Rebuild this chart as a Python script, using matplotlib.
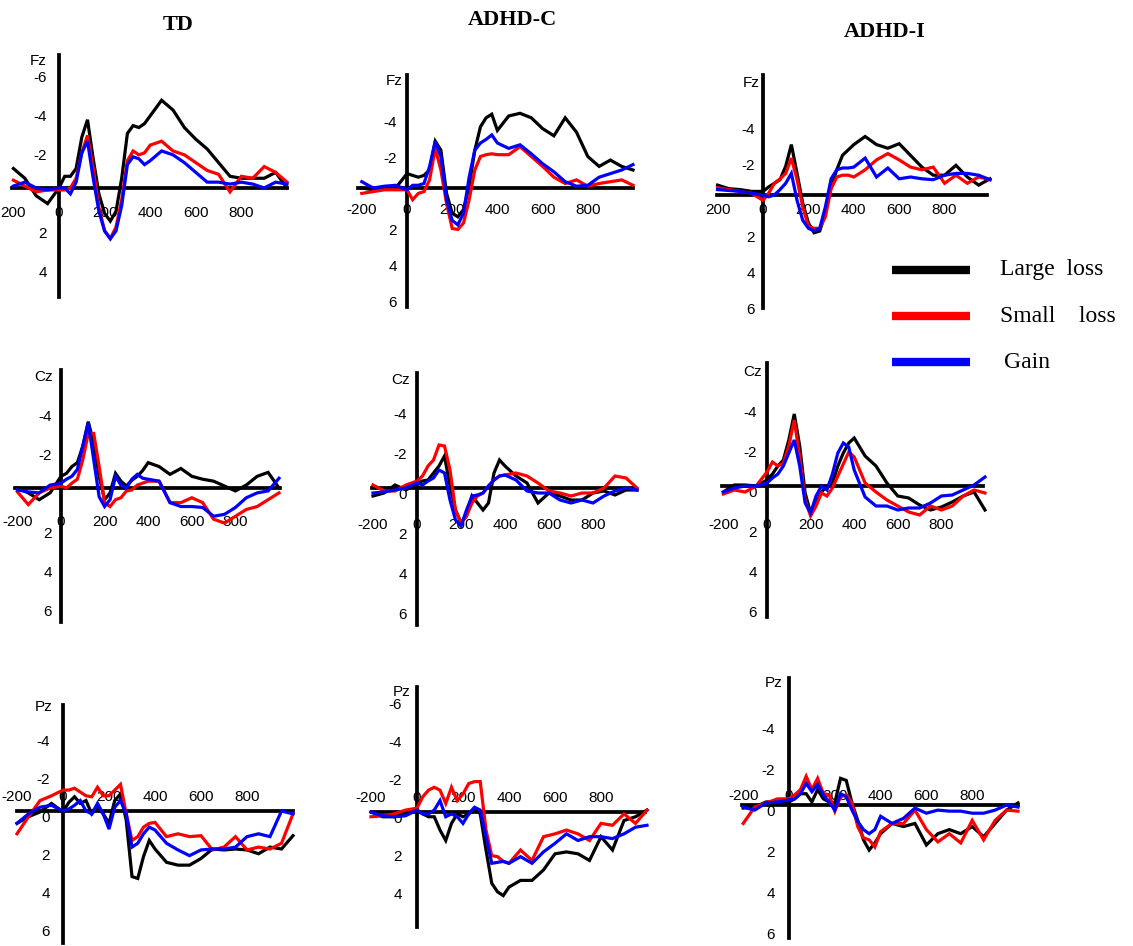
import matplotlib
matplotlib.use("Agg")
import matplotlib.pyplot as plt
from matplotlib.lines import Line2D

W, H = 1133, 946
plt.rcParams['font.family'] = ['Liberation Sans', 'DejaVu Sans']

# time points (ms) shared by every waveform
times = [-200, -150, -100, -50, 0, 25, 50, 75, 100, 125, 150, 175, 200, 225, 250, 275,
         300, 325, 350, 375, 400, 450, 500, 550, 600, 650, 700, 750, 800, 850, 900, 950, 1000]

groups = ["TD", "ADHD-C", "ADHD-I"]
sites = ["Fz", "Cz", "Pz"]
conditions = ["Large  loss", "Small    loss", "Gain"]
colors = ["#000000", "#ff0000", "#0000ff"]

# amplitudes in microvolts (negative plotted upward)
td_fz_large = [-1.0, -0.5, 0.4, 0.8, 0.0, -0.6, -0.6, -1.0, -2.6, -3.5, -1.5, 0.3, 1.3, 1.7, 1.2, -0.5,
               -2.8, -3.2, -3.1, -3.3, -3.7, -4.5, -4.0, -3.1, -2.5, -2.0, -1.3, -0.6, -0.5, -0.5, -0.5, -0.8, 0.0]
td_fz_small = [-0.4, -0.1, 0.2, 0.1, 0.1, 0.1, 0.0, -0.5, -1.8, -2.7, -1.0, 1.0, 2.2, 2.6, 2.0, 0.6,
               -1.4, -1.9, -1.7, -1.8, -2.2, -2.4, -1.9, -1.7, -1.3, -0.9, -0.7, 0.2, -0.6, -0.5, -1.1, -0.8, -0.3]
td_fz_gain = [-0.1, -0.3, 0.0, 0.1, 0.0, 0.0, 0.3, -0.3, -1.8, -2.4, -0.5, 1.2, 2.2, 2.6, 2.2, 0.9,
              -1.2, -1.6, -1.5, -1.2, -1.4, -1.9, -1.7, -1.3, -0.8, -0.3, -0.3, -0.2, -0.3, -0.2, 0.0, -0.3, -0.2]

adc_fz_large = [0.0, 0.1, 0.0, 0.0, -0.8, -0.7, -0.6, -0.7, -1.0, -2.6, -2.1, 0.3, 1.4, 1.6, 1.2, -0.1,
                -2.1, -3.4, -3.9, -4.1, -3.2, -4.0, -4.15, -3.9, -3.3, -2.9, -3.9, -3.1, -1.75, -1.2, -1.55, -1.2, -1.0]
adc_fz_small = [0.3, 0.2, 0.1, 0.1, 0.1, 0.65, 0.3, 0.2, -0.45, -2.2, -1.0, 0.85, 2.25, 2.3, 1.95, 0.65,
                -1.0, -1.75, -1.85, -1.9, -1.85, -1.85, -2.3, -1.75, -1.2, -0.6, -0.25, -0.45, -0.1, -0.25, -0.35, -0.45, -0.15]
adc_fz_gain = [-0.35, 0.0, -0.1, -0.15, 0.1, -0.15, -0.15, -0.25, -1.2, -2.6, -1.75, 0.65, 1.8, 2.05, 1.4, -0.6,
               -2.1, -2.5, -2.7, -2.95, -2.5, -2.2, -2.4, -1.9, -1.35, -0.9, -0.35, -0.1, -0.15, -0.6, -0.8, -1.0, -1.3]

adi_fz_large = [-0.55, -0.35, -0.3, -0.2, -0.2, -0.45, -0.65, -0.85, -1.6, -2.8, -1.2, 0.45, 1.55, 2.1, 2.0, 1.0,
                -0.45, -1.4, -2.2, -2.5, -2.8, -3.25, -2.8, -2.6, -2.85, -2.2, -1.55, -1.1, -1.1, -1.65, -1.0, -0.55, -0.9]
adi_fz_small = [-0.4, -0.3, -0.2, -0.1, 0.3, -0.1, -0.65, -0.9, -1.2, -2.05, -0.85, 0.65, 1.75, 1.85, 1.85, 1.2,
                -0.35, -1.0, -1.1, -1.1, -1.0, -1.4, -1.95, -2.3, -1.95, -1.55, -1.4, -1.55, -0.65, -1.1, -0.65, -1.0, -0.85]
adi_fz_gain = [-0.3, -0.25, -0.2, -0.1, 0.0, 0.1, 0.0, -0.3, -0.65, -1.2, 0.3, 1.4, 1.85, 2.0, 1.85, 0.65,
               -0.9, -1.4, -1.5, -1.5, -1.55, -2.05, -1.0, -1.5, -0.9, -1.0, -0.9, -0.85, -1.1, -1.2, -1.2, -1.1, -0.85]

td_cz_large = [0.0, 0.25, 0.6, 0.25, -0.6, -0.75, -1.1, -1.3, -2.15, -3.4, -2.3, -0.6, 0.6, 0.25, -0.75, -0.35,
               -0.1, -0.4, -0.6, -0.9, -1.3, -1.1, -0.7, -1.0, -0.6, -0.45, -0.35, -0.1, 0.15, -0.15, -0.6, -0.8, 0.0]
td_cz_small = [0.2, 0.85, 0.25, 0.0, -0.1, 0.0, -0.25, -0.45, -1.45, -2.8, -2.8, -1.1, 0.75, 0.95, 0.6, 0.5,
               0.15, 0.1, -0.15, -0.25, -0.35, -0.35, 0.75, 0.75, 0.5, 0.75, 1.6, 1.8, 1.45, 1.1, 0.95, 0.6, 0.25]
td_cz_gain = [0.1, 0.2, 0.25, -0.15, -0.25, -0.45, -0.6, -0.95, -2.15, -3.35, -1.45, 0.45, 0.95, 0.6, -0.6, -0.15,
              0.0, -0.45, -0.7, -0.5, -0.45, -0.35, 0.75, 0.95, 0.95, 1.0, 1.45, 1.35, 1.0, 0.5, 0.25, 0.15, -0.5]

adc_cz_large = [0.4, 0.25, -0.15, 0.1, -0.25, -0.35, -0.4, -0.75, -1.1, -1.6, -0.1, 1.1, 1.75, 1.4, 0.4, 0.75,
                1.1, 0.75, -0.75, -1.4, -1.1, -0.6, -0.25, 0.75, 0.25, 0.4, 0.6, 0.6, 0.25, 0.15, 0.35, 0.1, 0.1]
adc_cz_small = [-0.15, 0.15, 0.15, -0.15, -0.35, -0.6, -1.1, -1.4, -2.15, -2.1, -0.9, 1.1, 1.75, 1.4, 0.75, 0.4,
                0.25, -0.1, -0.4, -0.6, -0.65, -0.75, -0.6, -0.25, 0.15, 0.25, 0.4, 0.25, 0.25, 0.0, -0.6, -0.5, 0.0]
adc_cz_gain = [0.25, 0.2, 0.1, 0.0, -0.25, -0.15, -0.35, -0.5, -0.9, -0.75, 0.6, 1.6, 1.9, 1.1, 0.4, 0.35,
               0.25, -0.1, -0.4, -0.6, -0.65, -0.4, 0.15, 0.25, 0.25, 0.6, 0.75, 0.6, 0.75, 0.4, 0.15, 0.0, 0.1]

adi_cz_large = [0.3, -0.05, -0.05, 0.0, -0.3, -0.6, -1.0, -1.3, -2.3, -3.6, -2.0, 0.35, 1.35, 0.85, 0.3, 0.0,
                -0.15, -1.0, -1.65, -2.15, -2.4, -1.5, -1.0, -0.15, 0.5, 0.6, 0.95, 1.2, 1.05, 0.8, 0.5, 0.3, 1.2]
adi_cz_small = [0.4, 0.2, 0.3, 0.0, -0.7, -1.2, -1.0, -1.15, -2.0, -3.3, -1.45, 0.7, 1.5, 1.0, 0.35, 0.5,
                0.1, -0.5, -1.1, -1.7, -1.45, -0.15, 0.3, 0.7, 1.0, 1.3, 1.45, 1.0, 1.2, 1.0, 0.5, 0.2, 0.35]
adi_cz_gain = [0.3, 0.1, 0.0, 0.0, -0.15, -0.4, -0.6, -1.0, -1.65, -2.3, -1.0, 0.85, 1.35, 0.5, 0.0, 0.2,
               -0.6, -1.65, -2.15, -1.95, -0.8, 0.55, 1.0, 1.0, 1.2, 1.1, 1.1, 0.85, 0.5, 0.45, 0.2, -0.05, -0.45]

td_pz_large = [0.65, 0.3, 0.05, -0.4, 0.05, -0.45, -0.75, -0.4, -0.55, 0.15, -0.2, 0.15, 0.65, -0.55, -0.9, 0.5,
               3.45, 3.55, 2.4, 1.55, 2.0, 2.7, 2.85, 2.85, 2.5, 2.0, 2.05, 2.0, 2.05, 2.25, 1.9, 2.0, 1.3]
td_pz_small = [1.2, 0.3, -0.55, -0.8, -1.1, -1.1, -1.2, -1.0, -0.8, -0.75, -1.25, -0.8, -0.8, -1.1, -1.4, 0.15,
               1.55, 1.35, 0.85, 0.65, 0.6, 1.35, 1.2, 1.35, 1.3, 2.05, 1.9, 1.35, 2.05, 1.9, 2.0, 1.7, 0.15]
td_pz_gain = [0.65, 0.15, -0.2, -0.3, 0.0, -0.1, -0.3, -0.55, 0.0, 0.15, -0.4, 0.15, 0.95, -0.2, -0.55, 0.15,
              1.9, 1.7, 1.2, 0.85, 1.0, 1.7, 2.05, 2.35, 2.05, 2.0, 2.0, 1.9, 1.35, 1.2, 1.35, 0.0, 0.15]

adc_pz_large = [0.0, 0.25, 0.25, 0.1, -0.1, 0.1, 0.25, 0.25, 0.95, 1.5, 0.6, 0.1, 0.25, 0.1, -0.2, 0.1,
                2.0, 3.75, 4.2, 4.4, 3.95, 3.6, 3.6, 3.05, 2.2, 2.1, 2.2, 2.55, 1.3, 2.0, 0.45, 0.25, -0.1]
adc_pz_small = [0.25, 0.2, 0.1, -0.1, -0.2, -0.8, -1.15, -1.3, -1.15, -0.45, -1.3, -0.6, -0.95, -1.5, -1.6, -1.6,
                0.95, 2.3, 2.35, 2.6, 2.7, 2.0, 2.55, 1.3, 1.15, 0.95, 1.15, 1.5, 0.6, 0.7, 0.1, 0.6, -0.1]
adc_pz_gain = [0.0, 0.2, 0.25, 0.2, -0.1, 0.1, 0.1, -0.1, -0.6, 0.25, 0.1, 0.25, 0.6, 0.1, -0.25, -0.1,
               1.3, 2.7, 2.65, 2.6, 2.7, 2.35, 2.7, 2.1, 1.65, 1.15, 1.5, 1.3, 1.3, 1.4, 1.15, 0.8, 0.7]

adi_pz_large = [0.15, 0.1, -0.15, -0.15, -0.15, -0.3, -0.55, -0.55, -0.15, -0.75, -0.3, -0.15, -0.1, -1.3, -1.2, -0.1,
                0.75, 1.7, 2.2, 1.85, 1.4, 0.9, 1.05, 0.9, 1.95, 1.4, 1.2, 1.4, 1.05, 1.55, 0.9, 0.25, -0.1]
adi_pz_small = [0.9, 0.1, -0.1, -0.3, -0.3, -0.5, -0.75, -1.4, -0.75, -1.3, -0.55, -0.5, 0.3, -0.4, -0.5, -0.1,
                1.05, 1.6, 1.7, 2.05, 1.3, 0.9, 0.9, 0.25, 1.2, 1.8, 1.4, 1.85, 0.75, 1.7, 0.75, 0.25, 0.3]
adi_pz_gain = [0.1, 0.25, -0.1, -0.15, -0.25, -0.3, -0.55, -1.05, -0.65, -1.0, -0.5, -0.15, 0.25, -0.55, -0.4, 0.25,
               0.8, 1.2, 1.4, 1.2, 0.55, 0.9, 0.65, 0.15, 0.4, 0.25, 0.3, 0.3, 0.4, 0.4, 0.25, 0.0, 0.1]

waves = {
    ("TD", "Fz"): [td_fz_large, td_fz_small, td_fz_gain],
    ("ADHD-C", "Fz"): [adc_fz_large, adc_fz_small, adc_fz_gain],
    ("ADHD-I", "Fz"): [adi_fz_large, adi_fz_small, adi_fz_gain],
    ("TD", "Cz"): [td_cz_large, td_cz_small, td_cz_gain],
    ("ADHD-C", "Cz"): [adc_cz_large, adc_cz_small, adc_cz_gain],
    ("ADHD-I", "Cz"): [adi_cz_large, adi_cz_small, adi_cz_gain],
    ("TD", "Pz"): [td_pz_large, td_pz_small, td_pz_gain],
    ("ADHD-C", "Pz"): [adc_pz_large, adc_pz_small, adc_pz_gain],
    ("ADHD-I", "Pz"): [adi_pz_large, adi_pz_small, adi_pz_gain],
}

# tick values / labels per panel
xtick_vals = [-200, 0, 200, 400, 600, 800]
xtick_text = {
    ("TD", "Fz"): ["200", "0", "200", "400", "600", "800"],
    ("ADHD-I", "Fz"): ["200", "0", "200", "400", "600", "800"],
}
default_xtext = ["-200", "0", "200", "400", "600", "800"]
ytick_vals = {
    ("TD", "Fz"): [-6, -4, -2, 2, 4],
    ("ADHD-C", "Fz"): [-4, -2, 2, 4, 6],
    ("ADHD-I", "Fz"): [-4, -2, 2, 4, 6],
    ("TD", "Cz"): [-4, -2, 2, 4, 6],
    ("ADHD-C", "Cz"): [-4, -2, 0, 2, 4, 6],
    ("ADHD-I", "Cz"): [-4, -2, 0, 2, 4, 6],
    ("TD", "Pz"): [-4, -2, 0, 2, 4, 6],
    ("ADHD-C", "Pz"): [-6, -4, -2, 0, 2, 4],
    ("ADHD-I", "Pz"): [-4, -2, 0, 2, 4, 6],
}

# pixel geometry of each hand-placed panel:
# origin (x0, y0), px per ms, px per uV, vertical axis span, horizontal axis span,
# x-label offset from axis, y-label gap, site label (right x, centre y)
layout = {
    ("TD", "Fz"): dict(x0=59, y0=188, sx=0.228, sy=19.5, v=(55, 297), h=(12, 287), xl=25, yl=12, name=(47, 61)),
    ("ADHD-C", "Fz"): dict(x0=407, y0=188, sx=0.226, sy=18, v=(75, 307), h=(358, 633), xl=22, yl=10, name=(403, 81)),
    ("ADHD-I", "Fz"): dict(x0=763, y0=195, sx=0.227, sy=18, v=(75, 308), h=(717, 987), xl=15, yl=8, name=(760, 83)),
    ("TD", "Cz"): dict(x0=61, y0=488, sx=0.218, sy=19.5, v=(370, 622), h=(15, 280), xl=34, yl=9, name=(53, 377)),
    ("ADHD-C", "Cz"): dict(x0=417, y0=488, sx=0.22, sy=20, v=(373, 625), h=(372, 635), xl=37, yl=10, name=(410, 380)),
    ("ADHD-I", "Cz"): dict(x0=767, y0=486, sx=0.218, sy=20, v=(363, 617), h=(722, 983), xl=39, yl=10, name=(762, 372)),
    ("TD", "Pz"): dict(x0=63, y0=811, sx=0.23, sy=19, v=(705, 943), h=(17, 293), xl=-14, yl=13, name=(53, 707)),
    ("ADHD-C", "Pz"): dict(x0=417, y0=812, sx=0.23, sy=19, v=(687, 927), h=(372, 645), xl=-14, yl=15, name=(410, 692)),
    ("ADHD-I", "Pz"): dict(x0=789, y0=805, sx=0.229, sy=20.5, v=(678, 938), h=(742, 1018), xl=-9, yl=14, name=(782, 683)),
}
title_pos = {"TD": (178, 25), "ADHD-C": (512, 20), "ADHD-I": (885, 32)}

fig = plt.figure(figsize=(W / 100, H / 100), dpi=100)
XL, YL = (-260, 1060), (-8, 8)

for site in sites:
    for group in groups:
        key = (group, site)
        p = layout[key]
        sx, sy, x0, y0 = p["sx"], p["sy"], p["x0"], p["y0"]
        left = x0 + XL[0] * sx
        top = y0 + YL[0] * sy
        wpx = (XL[1] - XL[0]) * sx
        hpx = (YL[1] - YL[0]) * sy
        ax = fig.add_axes([left / W, 1 - (top + hpx) / H, wpx / W, hpx / H])
        ax.set_xlim(XL)
        ax.set_ylim(YL[1], YL[0])
        ax.patch.set_visible(False)
        for s in ("top", "right"):
            ax.spines[s].set_visible(False)
        ax.spines["left"].set_position(("data", 0))
        ax.spines["bottom"].set_position(("data", 0))
        ax.spines["left"].set_bounds((p["v"][0] - y0) / sy, (p["v"][1] - y0) / sy)
        ax.spines["bottom"].set_bounds((p["h"][0] - x0) / sx, (p["h"][1] - x0) / sx)
        for s in ("left", "bottom"):
            ax.spines[s].set_linewidth(2.7)
            ax.spines[s].set_color("black")
        ax.set_xticks([])
        ax.set_yticks([])

        for vals, c in zip(waves[key], colors):
            ax.plot(times, vals, color=c, lw=2.3, zorder=3, solid_joinstyle="miter")

        for v in ytick_vals[key]:
            ax.text(-p["yl"] / sx, v, str(v), ha="right", va="top", fontsize=11, zorder=1)
        for t, s in zip(xtick_vals, xtick_text.get(key, default_xtext)):
            ax.text(t, p["xl"] / sy, s, ha="center", va="center", fontsize=11, zorder=1)
        nx, ny = p["name"]
        ax.text((nx - x0) / sx, (ny - y0) / sy, site, ha="right", va="center", fontsize=11)

for g in groups:
    tx, ty = title_pos[g]
    fig.text(tx / W, 1 - ty / H, g, ha="center", va="center", fontsize=16,
             fontweight="bold", family="Liberation Serif")

# legend
leg_y = [270, 316, 362]
leg_tx = [1000, 1000, 1004]
for lab, c, ly, tx in zip(conditions, colors, leg_y, leg_tx):
    fig.add_artist(Line2D([892 / W, 970 / W], [1 - ly / H] * 2, color=c, lw=6,
                          transform=fig.transFigure, solid_capstyle="butt"))
    fig.text(tx / W, 1 - ly / H, lab, ha="left", va="center", fontsize=17,
             family="Liberation Serif")

fig.savefig("out.png", dpi=100)
